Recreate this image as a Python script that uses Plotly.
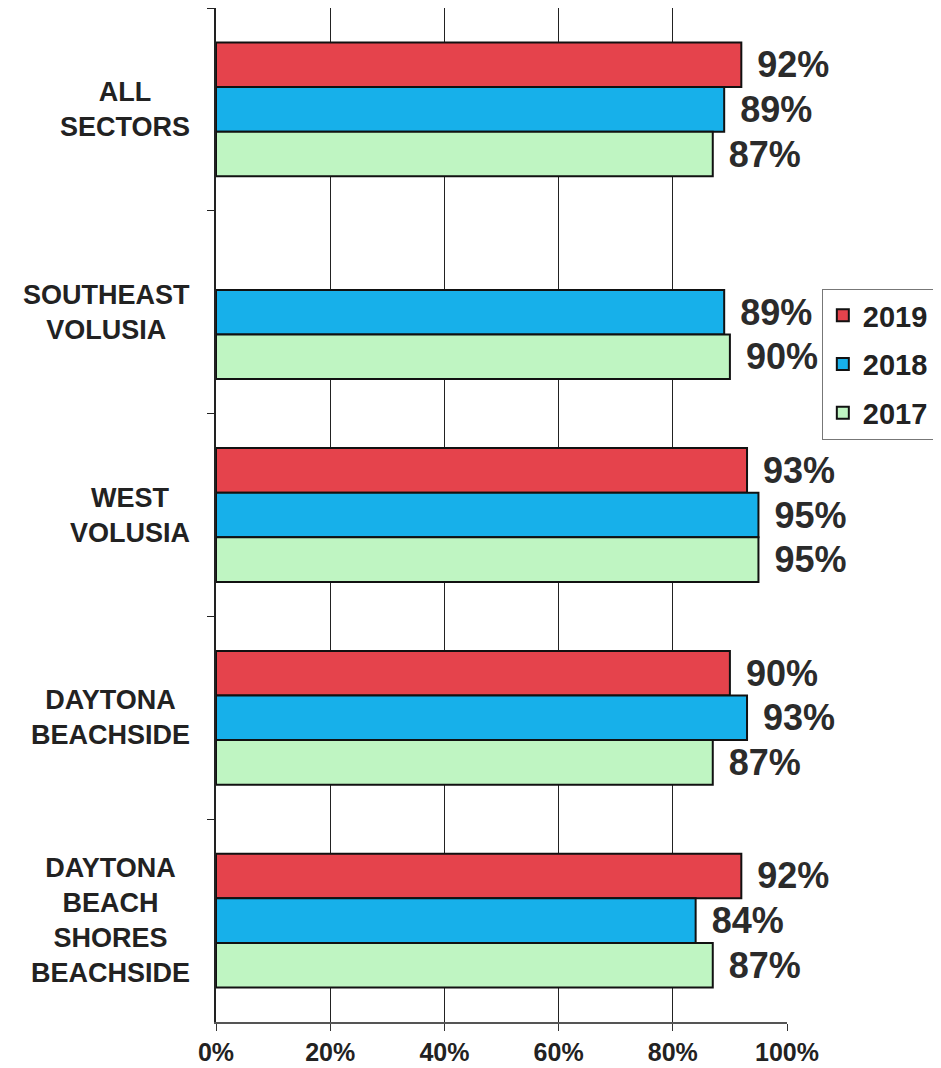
import plotly.graph_objects as go

categories = ["ALL<br>SECTORS", "SOUTHEAST<br>VOLUSIA", "WEST<br>VOLUSIA",
              "DAYTONA<br>BEACHSIDE", "DAYTONA<br>BEACH<br>SHORES<br>BEACHSIDE"]
years = ["2019", "2018", "2017"]
v2019 = [92, None, 93, 90, 92]
v2018 = [89, 89, 95, 93, 84]
v2017 = [87, 90, 95, 87, 87]
tick_vals = [0, 20, 40, 60, 80, 100]
tick_text = ["0%", "20%", "40%", "60%", "80%", "100%"]

series = [v2019, v2018, v2017]
colors = ["#E5434C", "#17B0EA", "#BFF5C2"]

FONT = "Liberation Sans, Arial, sans-serif"

fig = go.Figure()
for name, vals, col in zip(years, series, colors):
    fig.add_trace(go.Bar(
        y=categories, x=vals, name=name, orientation="h",
        marker=dict(color=col, line=dict(color="#111111", width=2)),
        text=[("\u00a0\u200a%d%%" % v) if v is not None else "" for v in vals],
        textposition="outside", cliponaxis=False, constraintext="none",
        textfont=dict(family=FONT, size=36, color="#2b2b2b", weight="bold"),
        legendgroup=name,
    ))

for cat in categories:
    fig.add_annotation(
        x=0, xref="paper", y=cat, yref="y", text=cat, showarrow=False,
        xanchor="right", yanchor="middle", align="center", xshift=-24,
        font=dict(family=FONT, size=27, color="#222222", weight="bold"),
    )

fig.update_layout(
    width=933, height=1060,
    margin=dict(l=208, r=154, t=0, b=46),
    paper_bgcolor="white", plot_bgcolor="white",
    barmode="group", bargap=0.34, bargroupgap=0,
    showlegend=True,
    legend=dict(
        x=1.061, y=0.723, xanchor="left", yanchor="top",
        bordercolor="#777777", borderwidth=1, bgcolor="white",
        font=dict(family=FONT, size=29, color="#222222", weight="bold"),
        tracegroupgap=8, traceorder="grouped",
    ),
    xaxis=dict(
        range=[0, 100], tickvals=tick_vals, ticktext=tick_text,
        showgrid=True, gridcolor="#222222", gridwidth=1,
        showline=True, linecolor="#555555", linewidth=2, mirror=True,
        ticks="outside", ticklen=7, tickcolor="#333333",
        automargin=False,
        tickfont=dict(family=FONT, size=25, color="#222222", weight="bold"),
        zeroline=False, fixedrange=True,
    ),
    yaxis=dict(
        autorange="reversed", type="category",
        showticklabels=False, showgrid=False, automargin=False,
        showline=True, linecolor="#222222", linewidth=2,
        ticks="outside", ticklen=7, tickson="boundaries", tickcolor="#222222",
        zeroline=False,
    ),
)

fig.write_html("out.html")
